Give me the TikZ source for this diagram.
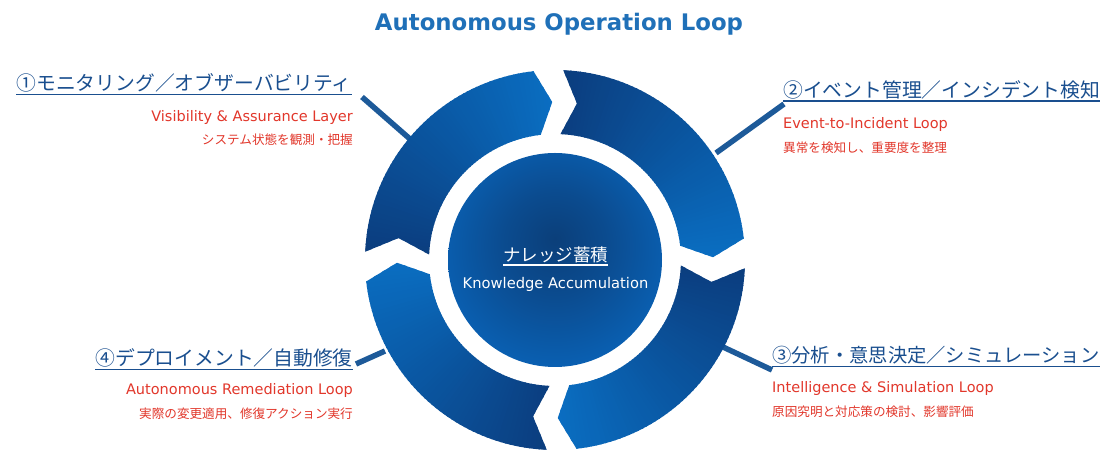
\documentclass[tikz,border=0pt]{standalone}
\usepackage{fontspec}
\setmainfont{DejaVu Sans}
\newfontfamily\jp{Noto Sans CJK JP}
\definecolor{navyc}{HTML}{0B3D7E}
\definecolor{brightc}{HTML}{0A6EC2}
\definecolor{hubdark}{HTML}{0B3F7A}
\definecolor{hubrim}{HTML}{0A68C0}
\definecolor{titleblue}{HTML}{1F70B8}
\definecolor{labelblue}{HTML}{1A4F8F}
\definecolor{subred}{HTML}{E2372B}
\definecolor{linkblue}{HTML}{1D5A99}
\pgfdeclareradialshading{discshade}{\pgfpoint{0bp}{5bp}}{color(0bp)=(hubdark); color(12bp)=(hubdark!70!hubrim); color(32bp)=(hubrim!95!hubdark); color(50bp)=(hubrim)}
\newcommand\ringseg[2]{%
  \begin{scope}
    \clip (#1:190) arc[start angle=#1,end angle=#2,radius=190] -- ({#2-5.5}:158) -- (#2:126)
          arc[start angle=#2,end angle=#1,radius=126] -- ({#1-5.5}:158) -- cycle;
    \pgfmathsetmacro\segspan{#1-#2+8}
    \foreach \i in {0,...,59}{
      \pgfmathsetmacro\angA{#1+1-\i*\segspan/60}
      \pgfmathsetmacro\angB{\angA-\segspan/60-0.5}
      \pgfmathsetmacro\pp{100*\i/59}
      \fill[brightc!\pp!navyc] (0,0) -- (\angA:200) arc[start angle=\angA,end angle=\angB,radius=200] -- cycle;
    }
  \end{scope}}
\tikzset{
  steptitle/.style={inner sep=0pt, text=labelblue, font=\jp\fontsize{19.8}{22}\selectfont},
  sublatin/.style={inner sep=0pt, text=subred, font=\fontsize{14.5}{17}\selectfont},
  subjp/.style={inner sep=0pt, text=subred, font=\jp\fontsize{12.6}{15}\selectfont},
  link/.style={draw=linkblue, line width=5.5pt},
  uline/.style={line width=1.3pt}
}
\begin{document}
\begin{tikzpicture}[x=1pt,y=1pt]
\useasboundingbox[fill=white] (0,0) rectangle (1120,465);

% title
\node[inner sep=0pt, anchor=base, text=titleblue, font=\bfseries\fontsize{22.8}{26}\selectfont] (title) at (559,434) {Autonomous Operation Loop};

% labels
\node[steptitle, anchor=base east] (t1) at (352,374) {①モニタリング／オブザーバビリティ};
\node[sublatin, anchor=base east] (s1) at (353,343) {Visibility \& Assurance Layer};
\node[subjp, anchor=base east] (j1) at (353,320) {システム状態を観測・把握};

\node[steptitle, anchor=base west] (t2) at (783,367.5) {②イベント管理／インシデント検知};
\node[sublatin, anchor=base west] (s2) at (783,336) {Event-to-Incident Loop};
\node[subjp, anchor=base west] (j2) at (783,312) {異常を検知し、重要度を整理};

\node[steptitle, anchor=base west, font=\jp\fontsize{19.3}{22}\selectfont] (t3) at (772,102) {③分析・意思決定／シミュレーション};
\node[sublatin, anchor=base west] (s3) at (772,72) {Intelligence \& Simulation Loop};
\node[subjp, anchor=base west] (j3) at (772,48.5) {原因究明と対応策の検討、影響評価};

\node[steptitle, anchor=base east] (t4) at (353,99) {④デプロイメント／自動修復};
\node[sublatin, anchor=base east] (s4) at (353,70) {Autonomous Remediation Loop};
\node[subjp, anchor=base east] (j4) at (353,46) {実際の変更適用、修復アクション実行};

\foreach \n in {t1,t2,t3,t4}{
  \draw[labelblue, uline] ([yshift=-3.5pt]\n.base west) -- ([yshift=-3.5pt]\n.base east);
}

% connector end points on the ring
\coordinate (r1) at (410,326);
\coordinate (r2) at (716,312);
\coordinate (r3) at (723,118);
\coordinate (r4) at (385,114);
\coordinate (e1) at (362,368);
\coordinate (e2) at (784,361);
\coordinate (e3) at (772,95);
\coordinate (e4) at (356,101);
\draw[link] (e1) -- (r1);
\draw[link] (e2) -- (r2);
\draw[link] (e3) -- (r3);
\draw[link] (e4) -- (r4);

% ring
\begin{scope}[shift={(555,205)}]
  \ringseg{177.5}{96.5}
  \ringseg{87.5}{6.5}
  \ringseg{-2.5}{-83.5}
  \ringseg{-92.5}{-173.5}
  \shade[shading=discshade] (0,0) circle (107);
  \coordinate (hub) at (0,0);
\end{scope}

% hub text
\node[inner sep=0pt, anchor=base, text=white, font=\jp\fontsize{17.5}{20}\selectfont] (k1) at (555.5,203.3) {ナレッジ蓄積};
\draw[white, uline] ([yshift=-3.3pt]k1.base west) -- ([yshift=-3.3pt]k1.base east);
\node[inner sep=0pt, anchor=base, text=white, font=\fontsize{14.7}{17}\selectfont] (k2) at (555.5,176) {Knowledge Accumulation};
\end{tikzpicture}
\end{document}
